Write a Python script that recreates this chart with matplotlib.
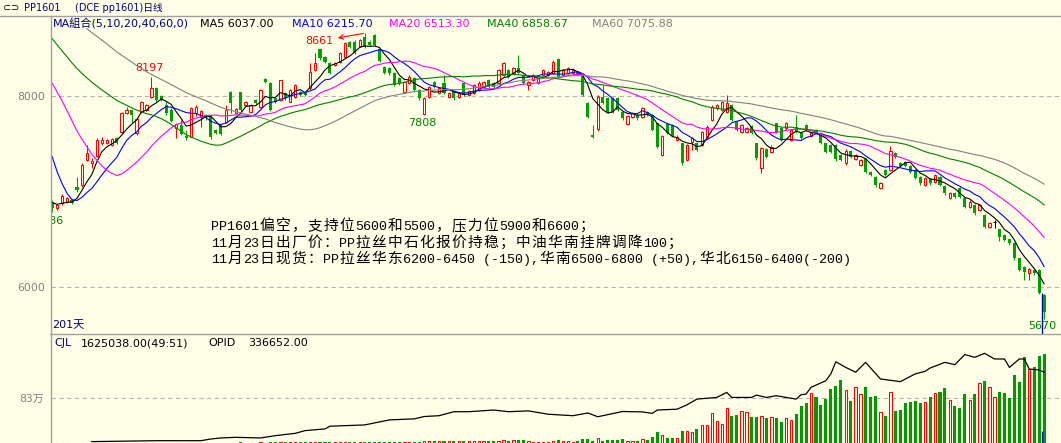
import numpy as np
import pandas as pd
import matplotlib
matplotlib.use("Agg")
import matplotlib.pyplot as plt
from itertools import groupby
from matplotlib.lines import Line2D
from matplotlib.transforms import offset_copy

# ---- PP1601 daily bars (201 days) ----
# closes before the first visible day, only needed so the MAs start where they do
prior_close = [9800, 9850, 9900, 9950, 10000, 10050, 10000, 9950, 9900, 9950, 9900, 9880, 9830,
               9520, 9460, 9480, 9390, 9350, 9320, 9230, 9210, 9140, 9120,
               9030, 9010, 8940, 8920, 8830, 8810, 8760, 8720, 8640, 8580,
               8700, 8850, 8950, 9050, 9100, 9000, 8950, 8900, 8800, 8740,
               8450, 8200, 7950, 7550,
               7100, 6950, 6900, 6880, 6870]

opens = [6897, 6827, 6879, 6897, 6914, 7054, 7071, 7333, 7298, 7375,
         7507, 7507, 7490, 7560, 7630, 7822, 7856, 7612, 7839, 7856,
         7996, 8083, 8003, 7909, 7856, 7664, 7699, 7584, 7577, 7822,
         7780, 7804, 7787, 7647, 7699, 7734, 8048, 7822, 8041, 7909,
         7839, 7961, 7891, 8178, 8143, 7979, 7961, 8031, 7944, 7996,
         8048, 8031, 8083, 8275, 8492, 8415, 8345, 8328, 8362, 8415,
         8572, 8572, 8526, 8625, 8572, 8640, 8492, 8310, 8293, 8240,
         8188, 8048, 8136, 8188, 8066, 7811, 7996, 8153, 8038, 8136,
         7996, 8048, 7996, 8136, 8013, 8031, 8066, 8101, 8171, 8136,
         8136, 8223, 8275, 8240, 8293, 8223, 8118, 8171, 8136, 8223,
         8223, 8240, 8387, 8223, 8240, 8240, 8258, 8212, 7926, 7590,
         7654, 7996, 7979, 7979, 7979, 7839, 7710, 7780, 7804, 7780,
         7839, 7804, 7717, 7385, 7706, 7699, 7542, 7507, 7333, 7525,
         7507, 7490, 7577, 7752, 7874, 7856, 7839, 7909, 7734, 7630,
         7630, 7689, 7507, 7246, 7445, 7420, 7717, 7664, 7664, 7542,
         7682, 7612, 7699, 7584, 7647, 7595, 7507, 7490, 7490, 7385,
         7298, 7431, 7340, 7281, 7340, 7211, 7158, 7043, 7228, 7228,
         7403, 7305, 7316, 7270, 7228, 7158, 7071, 7131, 7106, 7158,
         7061, 6932, 6991, 7036, 6932, 6844, 6862, 6809, 6757, 6635,
         6687, 6607, 6548, 6502, 6461, 6304, 6216, 6153, 6182, 6182,
         5920]

closes = [6827, 6862, 6959, 6932, 6886, 7019, 7281, 7403, 7322, 7542,
          7542, 7542, 7549, 7507, 7822, 7856, 7804, 7759, 7944, 7909,
          8083, 7961, 7961, 7822, 7745, 7706, 7605, 7560, 7874, 7891,
          7846, 7769, 7570, 7612, 7605, 7856, 7926, 7870, 7856, 7944,
          7909, 7926, 8066, 8153, 7856, 7944, 8171, 7979, 8066, 8118,
          8013, 8013, 8258, 8345, 8397, 8362, 8240, 8345, 8450, 8554,
          8520, 8450, 8589, 8520, 8537, 8537, 8373, 8240, 8240, 8118,
          8136, 8153, 8205, 8066, 7979, 7979, 8094, 8101, 8083, 8031,
          8038, 7979, 8031, 8013, 8055, 8118, 8143, 8153, 8101, 8101,
          8275, 8345, 8205, 8293, 8240, 8136, 8153, 8223, 8188, 8275,
          8258, 8362, 8205, 8275, 8293, 8275, 8223, 8013, 7787, 7577,
          7996, 7926, 7839, 7839, 7856, 7769, 7794, 7822, 7769, 7874,
          7804, 7647, 7473, 7584, 7612, 7584, 7577, 7298, 7490, 7560,
          7438, 7630, 7682, 7891, 7909, 7944, 7926, 7752, 7647, 7699,
          7664, 7612, 7350, 7455, 7368, 7473, 7630, 7542, 7717, 7647,
          7630, 7560, 7647, 7619, 7612, 7514, 7420, 7420, 7340, 7333,
          7431, 7368, 7385, 7333, 7211, 7176, 7071, 7089, 7176, 7431,
          7368, 7270, 7270, 7211, 7141, 7089, 7141, 7089, 7176, 7071,
          6984, 6984, 6949, 6949, 6844, 6897, 6775, 6862, 6635, 6670,
          6687, 6530, 6496, 6461, 6304, 6182, 6164, 6188, 6147, 5937,
          5745]

highs = [6914, 6872, 6973, 6945, 6928, 7158, 7298, 7490, 7350, 7560,
         7570, 7556, 7561, 7575, 7839, 7884, 7870, 7780, 7955, 7920,
         8197, 8100, 8015, 7944, 7874, 7717, 7752, 7647, 7891, 7909,
         7856, 7815, 7804, 7660, 7710, 7909, 8055, 7880, 8050, 7955,
         7920, 7970, 8080, 8190, 8150, 7990, 8175, 8040, 8075, 8130,
         8060, 8040, 8345, 8450, 8492, 8425, 8355, 8355, 8468, 8565,
         8580, 8585, 8600, 8661, 8585, 8655, 8500, 8320, 8305, 8250,
         8200, 8165, 8225, 8200, 8075, 7990, 8105, 8165, 8095, 8223,
         8050, 8060, 8040, 8145, 8065, 8130, 8155, 8165, 8180, 8145,
         8285, 8360, 8285, 8305, 8432, 8235, 8165, 8235, 8200, 8285,
         8270, 8375, 8400, 8285, 8305, 8285, 8270, 8220, 7935, 7699,
         8010, 8118, 7990, 7990, 7990, 7850, 7805, 7835, 7815, 7885,
         7850, 7815, 7725, 7595, 7715, 7710, 7590, 7515, 7500, 7570,
         7520, 7640, 7695, 7905, 7920, 7955, 8014, 7920, 7745, 7710,
         7675, 7700, 7515, 7465, 7455, 7485, 7725, 7675, 7730, 7660,
         7804, 7625, 7710, 7630, 7660, 7605, 7515, 7500, 7500, 7395,
         7445, 7440, 7395, 7345, 7350, 7220, 7170, 7100, 7240, 7480,
         7415, 7315, 7325, 7280, 7240, 7170, 7150, 7140, 7185, 7170,
         7070, 6995, 7000, 7045, 6940, 6910, 6870, 6875, 6765, 6680,
         6700, 6615, 6555, 6510, 6470, 6310, 6225, 6200, 6195, 6195,
         5930]

lows = [6786, 6809, 6862, 6885, 6872, 7001, 7054, 7326, 7253, 7368,
        7490, 7495, 7480, 7495, 7612, 7810, 7717, 7595, 7822, 7845,
        7979, 7944, 7950, 7804, 7734, 7560, 7595, 7543, 7570, 7794,
        7682, 7755, 7549, 7600, 7595, 7717, 7822, 7810, 7840, 7900,
        7830, 7915, 7880, 8140, 7845, 7930, 7950, 7965, 7935, 7985,
        8000, 8005, 8066, 8265, 8380, 8350, 8230, 8320, 8345, 8400,
        8510, 8440, 8515, 8510, 8525, 8525, 8360, 8230, 8225, 8105,
        8120, 8035, 8125, 8050, 7965, 7808, 7985, 8090, 8025, 8020,
        7985, 7965, 7985, 8000, 8000, 8020, 8055, 8090, 8090, 8090,
        8125, 8210, 8195, 8230, 8230, 8125, 8066, 8160, 8125, 8210,
        8210, 8230, 8195, 8210, 8230, 8230, 8210, 8000, 7775, 7560,
        7640, 7915, 7825, 7825, 7845, 7755, 7700, 7770, 7755, 7770,
        7795, 7635, 7460, 7370, 7600, 7570, 7530, 7285, 7320, 7438,
        7425, 7480, 7565, 7740, 7860, 7845, 7830, 7740, 7635, 7620,
        7620, 7600, 7335, 7193, 7355, 7410, 7620, 7530, 7650, 7530,
        7620, 7550, 7635, 7575, 7600, 7500, 7405, 7405, 7325, 7320,
        7285, 7355, 7330, 7270, 7200, 7165, 7055, 7030, 7165, 7215,
        7355, 7260, 7260, 7200, 7130, 7075, 7060, 7075, 7095, 7060,
        6970, 6920, 6935, 6935, 6830, 6835, 6760, 6795, 6620, 6620,
        6618, 6480, 6480, 6440, 6290, 6170, 6077, 6080, 6130, 5925,
        5670]

# volume in thousands of lots
volume_k = [0.3, 0.2, 0.4, 0.3, 0.5, 0.6, 0.8, 0.9, 0.7, 1.2,
            1.0, 0.9, 1.1, 1.5, 1.8, 1.3, 1.6, 2.0, 1.7, 1.5,
            2.2, 1.9, 1.4, 1.8, 2.1, 2.6, 2.3, 2.0, 3.0, 2.7,
            2.4, 3.3, 4.0, 3.6, 9, 6, 8, 7, 10, 8,
            7, 9, 11, 8, 14, 12, 10, 16, 13, 12,
            15, 18, 14, 17, 20, 16, 19, 15, 18, 21,
            17, 16, 20, 22, 19, 18, 23, 21, 24, 20,
            22, 25, 23, 21, 26, 38, 30, 34, 28, 41,
            36, 33, 29, 35, 40, 37, 31, 44, 39, 42,
            36, 48, 45, 52, 47, 55, 43, 24, 24, 24,
            24, 43, 61, 43, 43, 24, 43, 73, 73, 43,
            92, 43, 55, 61, 61, 73, 43, 43, 43, 73,
            61, 116, 196, 147, 92, 92, 92, 214, 226, 208,
            257, 330, 330, 551, 410, 349, 643, 502, 520, 588,
            575, 483, 483, 496, 459, 471, 459, 392, 453, 422,
            532, 685, 741, 924, 851, 704, 814, 985, 1053, 1163,
            973, 777, 1028, 900, 1034, 851, 869, 575, 502, 936,
            594, 612, 728, 759, 777, 728, 759, 838, 924, 942,
            1016, 796, 685, 649, 906, 789, 894, 1102, 1144, 1028,
            845, 942, 924, 832, 1255, 1126, 1585, 1359, 1401, 1603,
            1625.038]

# open interest (thousands), read at these days
opid_day = [8, 21, 30, 32, 34, 37, 42, 45, 49, 51, 55, 56, 63, 68, 73,
            75, 78, 81, 84, 89, 92, 96, 100, 105, 108, 110, 115, 119, 121, 122,
            126, 128, 130, 134, 136, 137, 141, 142, 144, 146, 150, 151, 152, 153, 156,
            157, 158, 160, 162, 164, 167, 171, 174, 176, 177, 180, 182, 184, 186, 188,
            190, 192, 193, 195, 196, 197, 199, 200]
opid_k = [6.6, 11, 11, 19, 24, 27, 24, 35, 46, 59, 67, 80, 86, 110, 115,
          126, 130, 149, 149, 157, 149, 153, 137, 130, 143, 125, 150, 148, 141, 157,
          161, 182, 209, 217, 241, 217, 217, 228, 217, 225, 209, 230, 233, 265, 297,
          329, 387, 360, 337, 384, 305, 292, 329, 341, 357, 384, 373, 421, 408, 427,
          400, 400, 360, 400, 400, 352, 348, 336.652]

notes = ["PP1601偏空，支持位5600和5500，压力位5900和6600；",
         "11月23日出厂价：PP拉丝中石化报价持稳；中油华南挂牌调降100；",
         "11月23日现货：PP拉丝华东6200-6450 (-150),华南6500-6800 (+50),华北6150-6400(-200)"]

n = len(closes)
assert all(len(a) == n for a in (opens, highs, lows, volume_k))
assert len(opid_day) == len(opid_k)

W, H = 1061, 443
BG = "#FFFFE8"
RED = "#FF0000"
GREEN = "#00A000"
NAVY = "#000080"
GRAY = "#808080"
LINE = "#A0A0A0"
MIX = ["DejaVu Sans", "Noto Sans CJK SC"]

full = pd.Series(prior_close + closes, dtype=float)
k = len(prior_close)
ma = {p: full.rolling(p).mean().iloc[k:].to_numpy() for p in (5, 10, 20, 40, 60)}
ma_col = {5: "black", 10: "#0000FF", 20: "#FF00FF", 40: "#008000", 60: GRAY}

fig = plt.figure(figsize=(W / 100, H / 100), dpi=100, facecolor=BG)


def box(x0, y0, x1, y1):
    return [x0 / W, 1 - y1 / H, (x1 - x0) / W, (y1 - y0) / H]


def pt(x, y):
    return x / W, 1 - y / H


ax = fig.add_axes(box(51, 16, 1061, 334))
vax = fig.add_axes(box(51, 334, 1061, 443))
oax = vax.twinx()
for a in (ax, vax, oax):
    for s in a.spines.values():
        s.set_visible(False)
    a.set_xticks([])
ax.set_facecolor(BG)
vax.set_facecolor(BG)

x = np.arange(n)
o, c, h, l = (np.array(v, dtype=float) for v in (opens, closes, highs, lows))
up, dn, fl = c > o, c < o, c == o

# candles
wick = np.where(up, RED, np.where(dn, GREEN, "black"))
ax.vlines(x, l, h, colors=wick, linewidth=0.75, zorder=2)
lo_b, ht_b = np.minimum(o, c), np.abs(c - o)
ax.bar(x[up], ht_b[up], bottom=lo_b[up], width=0.48, facecolor=BG, edgecolor=RED,
       linewidth=0.75, zorder=3)
ax.bar(x[dn], ht_b[dn], bottom=lo_b[dn], width=0.62, color=GREEN, linewidth=0, zorder=3)
ax.hlines(c[fl], x[fl] - 0.35, x[fl] + 0.35, colors="black", linewidth=0.75, zorder=3)

for p, col in ma_col.items():
    ax.plot(x, ma[p], color=col, linewidth=0.8, zorder=4)

ax.set_xlim(-0.24, 203.4)
ax.set_ylim(5510, 8841)
ax.set_yticks([6000, 8000])
ax.yaxis.grid(True, linestyle=(0, (4, 3)), color="#B4B4B4", linewidth=0.8)
ax.set_axisbelow(True)
ax.tick_params(axis="y", length=0, pad=4, labelsize=7.8, labelcolor=GRAY)


# high / low marks
def mark(i, val, col, dx, dy, ha, va, arrow=False):
    kw = {}
    if arrow:
        kw["arrowprops"] = dict(arrowstyle="<-", color=col, lw=0.8, shrinkA=1, shrinkB=1)
    ax.annotate(f"{val:.0f}", xy=(i, val), xytext=(dx, dy), textcoords="offset pixels",
                ha=ha, va=va, color=col, fontsize=8, **kw)


mark(20, h[20], RED, -2, 4, "center", "bottom")
mark(63, h[63], RED, -31, -8, "right", "center", arrow=True)
mark(75, l[75], "#008000", -2, -3, "center", "top")
mark(n - 1, l[n - 1], "#008000", -2, -2, "center", "top")
# first day's low sits at the left edge and is cut by the axis
ax.text(0, l[0], f"{l[0]:.0f}", transform=offset_copy(ax.transData, fig, x=11, y=-4, units="dots"),
        ha="right", va="top", color="#008000", fontsize=8, clip_on=True)

# volume + open interest
vol = np.array(volume_k) * 1000
vup = c >= o
vax.bar(x[vup], vol[vup], width=0.48, facecolor=BG, edgecolor=RED, linewidth=0.75, zorder=3)
vax.bar(x[~vup], vol[~vup], width=0.62, color="#009900", linewidth=0, zorder=3)
vax.set_xlim(-0.24, 203.4)
vax.set_ylim(0, 2.0e6)
vax.set_yticks([830000], ["83万"])
vax.yaxis.grid(True, linestyle=(0, (4, 3)), color="#B4B4B4", linewidth=0.8)
vax.set_axisbelow(True)
vax.tick_params(axis="y", length=0, pad=5, labelsize=7.8, labelcolor=GRAY)
for lbl in vax.get_yticklabels():
    lbl.set_family(MIX)
oax.plot(opid_day, np.array(opid_k) * 1000, color="black", linewidth=0.9)
oax.set_ylim(0, 519000)
oax.set_yticks([])
oax.set_xlim(-0.24, 203.4)

# cursor line at the last day
ax.vlines(n - 1.4, ax.get_ylim()[0], c[n - 2], colors="#0000C0", linewidth=1)
vax.vlines(n - 1.4, 0, 220000, colors="#0000C0", linewidth=1, zorder=4)

# frame lines
for xs, ys in (([0, W], [16, 16]), ([50.5, 50.5], [16, H]), ([50, W], [334, 334])):
    fig.add_artist(Line2D([v / W for v in xs], [1 - v / H for v in ys],
                          transform=fig.transFigure, color=LINE, linewidth=1))

# texts
fig.text(*pt(3, 8), "⊂⊃", fontsize=7, va="center", color="black")
fig.text(*pt(24, 8), "PP1601", fontsize=7, va="center", color=NAVY, family=MIX)
fig.text(*pt(75, 8), "(DCE pp1601)日线", fontsize=7, va="center", color=NAVY, family=MIX)

legend = [(53, "MA組合(5,10,20,40,60,0)", NAVY), (200, "MA5 6037.00", "black"),
          (292, "MA10 6215.70", "#0000FF"), (389, "MA20 6513.30", "#FF00FF"),
          (487, "MA40 6858.67", "#008000"), (592, "MA60 7075.88", GRAY)]
for xp, s, col in legend:
    fig.text(*pt(xp, 24), s, fontsize=8, va="center", color=col, family=MIX)

fig.text(*pt(52, 325), "201天", fontsize=8, va="center", color=NAVY, family=MIX)

# comment block: half-width 8px, full-width 16px cells like the original bitmap font
HALF, FULL = 8.0, 16.0
for base_y, s in zip((230, 247, 263), notes):
    xpos = 211.0
    for wide, run in groupby(s, key=lambda ch: ord(ch) > 0x2E80):
        run = "".join(run)
        if wide:
            for ch in run:
                fig.text(*pt(xpos + FULL / 2, base_y), ch, fontsize=10.6, ha="center",
                         va="baseline", color="black", family="Noto Sans CJK SC")
                xpos += FULL
        else:
            fig.text(*pt(xpos, base_y), run, fontsize=HALF / 0.6 * 0.72, va="baseline",
                     color="black", family="Liberation Mono")
            xpos += HALF * len(run)

fig.text(*pt(54, 343.5), "CJL", fontsize=8, va="center", color=NAVY)
fig.text(*pt(81, 343.5), "1625038.00(49:51)", fontsize=8, va="center", color="black")
fig.text(*pt(208, 343.5), "OPID", fontsize=8, va="center", color="black")
fig.text(*pt(248, 343.5), "336652.00", fontsize=8, va="center", color="black")

fig.savefig("out.png", dpi=100, facecolor=BG)
